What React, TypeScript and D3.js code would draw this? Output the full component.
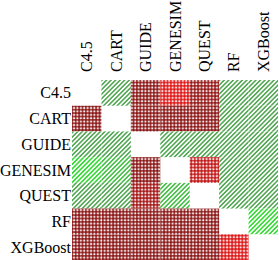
import React, { useEffect, useRef } from 'react';
import * as d3 from 'd3';

const models = ['C4.5', 'CART', 'GUIDE', 'GENESIM', 'QUEST', 'RF', 'XGBoost'];

// row beats column (> 0, red) or loses (< 0, green); magnitude = strength; null = diagonal
const rowC45 = [null, -1, 1, 0.15, 0.9, -1, -1];
const rowCART = [1, null, 1, 1, 1, -1, -1];
const rowGUIDE = [-1, -1, null, -1, -1, -1, -1];
const rowGENESIM = [-0.15, -0.6, 1, null, 0.45, -1, -1];
const rowQUEST = [-1, -1, 0.75, -0.6, null, -1, -1];
const rowRF = [1, 1, 1, 1, 1, null, -0.15];
const rowXGBoost = [1, 1, 1, 1, 1, 0.2, null];

const matrix = [rowC45, rowCART, rowGUIDE, rowGENESIM, rowQUEST, rowRF, rowXGBoost];

const App: React.FC = () => {
  const svgRef = useRef<SVGSVGElement>(null);

  useEffect(() => {
    if (!svgRef.current) return;
    const svg = d3.select(svgRef.current);
    svg.selectAll('*').remove();

    const width = 279;
    const height = 260;
    const margin = { top: 80, right: 1, bottom: 0, left: 72 };

    const x = d3.scaleBand().domain(models).range([margin.left, width - margin.right]);
    const y = d3.scaleBand().domain(models).range([margin.top, height - margin.bottom]);

    const red = d3.scaleLinear<string>().domain([0, 1]).range(['#f00000', '#800000']);
    const green = d3.scaleLinear<string>().domain([0, 1]).range(['#33e033', '#55a855']);

    const cells = matrix.flatMap((row, i) =>
      row.map((v, j) => ({ row: models[i], col: models[j], v, id: `p${i}_${j}` }))
    ).filter(d => d.v !== null) as { row: string; col: string; v: number; id: string }[];

    const defs = svg.append('defs');
    cells.forEach(d => {
      if (d.v > 0) {
        const p = 3.4;
        const pat = defs.append('pattern')
          .attr('id', d.id)
          .attr('patternUnits', 'userSpaceOnUse')
          .attr('width', p).attr('height', p);
        pat.append('rect').attr('width', p).attr('height', p).attr('fill', '#fff');
        pat.append('rect').attr('width', p * 0.55).attr('height', p)
          .attr('fill', red(d.v)).attr('fill-opacity', 0.7);
        pat.append('rect').attr('width', p).attr('height', p * 0.55)
          .attr('fill', red(d.v)).attr('fill-opacity', 0.7);
      } else {
        const p = 3.2;
        const pat = defs.append('pattern')
          .attr('id', d.id)
          .attr('patternUnits', 'userSpaceOnUse')
          .attr('width', p).attr('height', p)
          .attr('patternTransform', 'rotate(45)');
        pat.append('rect').attr('width', p).attr('height', p).attr('fill', '#fff');
        pat.append('rect').attr('width', 1.6).attr('height', p).attr('fill', green(-d.v));
      }
    });

    svg.append('g')
      .selectAll('rect')
      .data(cells)
      .join('rect')
      .attr('x', d => x(d.col)!)
      .attr('y', d => y(d.row)!)
      .attr('width', x.bandwidth())
      .attr('height', y.bandwidth())
      .attr('fill', d => `url(#${d.id})`);

    // row labels
    svg.append('g')
      .selectAll('text')
      .data(models)
      .join('text')
      .attr('x', margin.left - 1)
      .attr('y', d => y(d)! + y.bandwidth() / 2)
      .attr('dy', '0.35em')
      .attr('text-anchor', 'end')
      .text(d => d);

    // column labels
    svg.append('g')
      .selectAll('text')
      .data(models)
      .join('text')
      .attr('transform', d => `translate(${x(d)! + x.bandwidth() / 2},${margin.top - 8}) rotate(-90)`)
      .attr('dy', '0.35em')
      .attr('text-anchor', 'start')
      .text(d => d);
  }, []);

  return (
    <div style={{ position: 'absolute', left: 0, top: 0 }}>
      <svg
        ref={svgRef}
        width={279}
        height={260}
        style={{ display: 'block', fontFamily: '"Liberation Serif", serif', fontSize: 16, fill: '#000' }}
      />
    </div>
  );
};

export default App;
